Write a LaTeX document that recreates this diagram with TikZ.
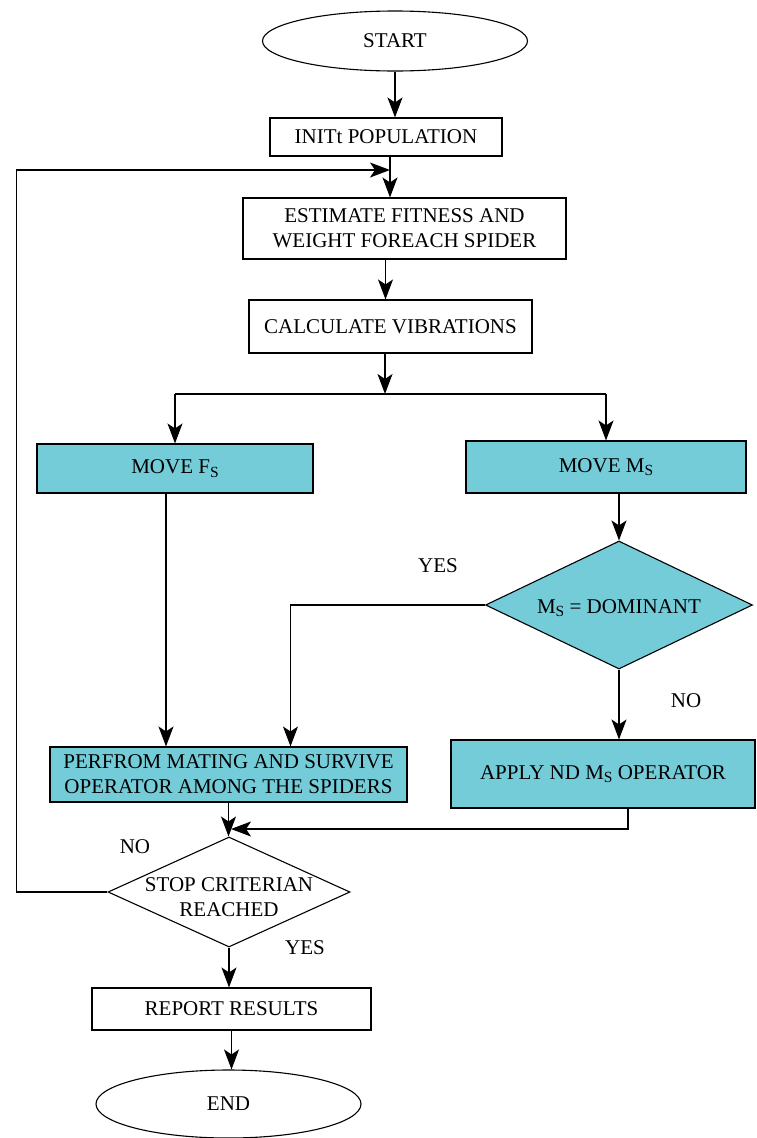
\documentclass[tikz,border=0pt]{standalone}
\usepackage{fontspec}
\setmainfont{Liberation Serif}
\usepackage{xcolor}
\usepackage{tikz}
\usetikzlibrary{positioning, calc, shapes.geometric, arrows.meta}

\definecolor{spidercyan}{RGB}{116,204,217}
\newcommand{\lowsub}[1]{\raisebox{-0.35ex}{\fontsize{15.5}{15.5}\selectfont #1}}

\tikzset{
  procbox/.style = {draw, rectangle, line width = 1.1pt, inner sep = 0pt, align = center},
  cyanbox/.style = {procbox, fill = spidercyan},
  decision/.style = {draw, diamond, line width = 1.1pt, inner sep = 0pt},
  terminal/.style = {draw, ellipse, line width = 1.1pt, inner sep = 0pt},
  flow/.style = {-{Stealth[length = 20pt, width = 15pt, inset = 5pt]}, line width = 1.1pt},
  tag/.style = {inner sep = 0pt}
}

\begin{document}
\begin{tikzpicture}[x = 1pt, y = -1pt, font = \fontsize{21}{25}\selectfont]
        \useasboundingbox (0,0) rectangle (757,1138);
        % terminals and steps
        \node (start) [terminal, minimum width = 265pt, minimum height = 60pt]
        at (395,41) {START};
        \node (init) [procbox, minimum width = 232pt, minimum height = 38pt]
        at (386,137) {INITt POPULATION};
        \node (est) [procbox, minimum width = 323pt, minimum height = 61pt]
        at (404.5,228.5) {ESTIMATE FITNESS AND\\WEIGHT FOREACH SPIDER};
        \node (calc) [procbox, minimum width = 283pt, minimum height = 53pt]
        at (390.5,326.5) {CALCULATE VIBRATIONS};
        \node (fs) [cyanbox, minimum width = 276pt, minimum height = 49pt]
        at (175,468.5) {MOVE F\lowsub{S}};
        \node (ms) [cyanbox, minimum width = 280pt, minimum height = 52pt]
        at (606,467) {MOVE M\lowsub{S}};
        \node (dom) [decision, fill = spidercyan, minimum width = 267pt,
        minimum height = 128pt, label = {[yshift = -3pt]center:M\lowsub{S} = DOMINANT}]
        at (619,605) {};
        \node (perf) [cyanbox, minimum width = 357pt, minimum height = 55pt]
        at (228.5,774.5) {PERFROM MATING AND SURVIVE\\OPERATOR AMONG THE SPIDERS};
        \node (apply) [cyanbox, minimum width = 304pt, minimum height = 68pt]
        at (603,774) {APPLY ND M\lowsub{S} OPERATOR};
        \node (stop) [decision, minimum width = 242pt, minimum height = 110pt,
        label = {[align = center, yshift = -5pt]center:STOP CRITERIAN\\REACHED}]
        at (229,892) {};
        \node (report) [procbox, minimum width = 279pt, minimum height = 42pt]
        at (231.5,1009) {REPORT RESULTS};
        \node (end) [terminal, minimum width = 265pt, minimum height = 68pt]
        at (228.5,1104) {END};
        % branch labels
        \node (yesdom) [tag] at (438,566) {YES};
        \node (nodom) [tag] at (686,701) {NO};
        \node (nostop) [tag] at (135,847) {NO};
        \node (yesstop) [tag] at (305,948) {YES};
        % connectors
        \coordinate (loop) at (390,170);
        \coordinate (split) at (385,394);
        \coordinate (merge) at (231,829);
        \draw [flow] (start.south) -- (start.south |- init.north);
        \draw [flow] ([xshift = 4pt]init.south) -- ([xshift = 4pt]init.south |- est.north);
        \draw [flow] (stop.west) -- ++(-91,0) |- (loop);
        \draw [flow] ([xshift = -19pt]est.south) -- ([xshift = -19pt]est.south |- calc.north);
        \draw [flow] (calc.south -| split) -- (split);
        \draw [line width = 1.1pt] (split -| fs.north) -- (split -| ms.north);
        \draw [flow] (split -| fs.north) -- (fs.north);
        \draw [flow] (split -| ms.north) -- (ms.north);
        \draw [flow] (ms.south -| dom.north) -- (dom.north);
        \draw [flow] (dom.west) -| ([xshift = 62pt]perf.north);
        \draw [flow] ([xshift = -9pt]fs.south) -- ([xshift = -9pt]fs.south |- perf.north);
        \draw [flow] (dom.south) -- (dom.south |- apply.north);
        \draw [flow] ([xshift = 25pt]apply.south) |- (merge);
        \draw [flow] (perf.south) -- (perf.south |- stop.north);
        \draw [flow] (stop.south) -- (stop.south |- report.north);
        \draw [flow] (report.south) -- (report.south |- end.north);
\end{tikzpicture}
\end{document}
